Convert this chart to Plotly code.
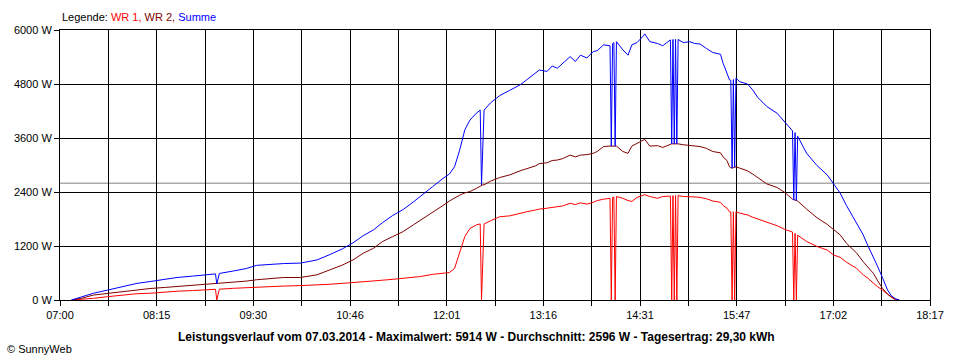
import plotly.graph_objects as go

# ---- data ----
TIMES = [
    "07:09", "07:17", "07:26", "07:37", "07:47", "08:00", "08:10", "08:22", "08:31", "08:43",
    "08:59", "09:01", "09:02", "09:04", "09:15", "09:25", "09:33", "09:43", "09:54", "10:07",
    "10:20", "10:30", "10:40", "10:48", "10:56", "11:04", "11:11", "11:19", "11:27", "11:35",
    "11:40", "11:50", "11:58", "12:03", "12:07", "12:11", "12:15", "12:19", "12:24", "12:27",
    "12:28", "12:29", "12:30", "12:35", "12:42", "12:50", "12:58", "13:03", "13:10", "13:13",
    "13:19", "13:23", "13:27", "13:31", "13:37", "13:41", "13:45", "13:50", "13:55", "13:58",
    "14:03", "14:08", "14:09", "14:10", "14:11", "14:12", "14:13", "14:18", "14:22", "14:25",
    "14:29", "14:34", "14:35", "14:39", "14:45", "14:49", "14:55", "14:56", "14:57", "14:58",
    "14:59", "15:00", "15:01", "15:05", "15:10", "15:14", "15:18", "15:23", "15:28", "15:34",
    "15:36", "15:39", "15:41", "15:42", "15:43", "15:44", "15:45", "15:46", "15:49", "15:55",
    "15:59", "16:03", "16:10", "16:18", "16:24", "16:30", "16:31", "16:32", "16:33", "16:34",
    "16:41", "16:49", "16:57", "17:02", "17:07", "17:12", "17:20", "17:25", "17:28", "17:33",
    "17:36", "17:40", "17:44", "17:47", "17:50", "17:53",
]

WR1 = [
    0, 15, 37, 74, 110, 140, 150, 185, 195, 210,
    235, 238, 0, 240, 260, 275, 290, 300, 310, 320,
    330, 350, 370, 385, 400, 420, 440, 460, 480, 500,
    520, 570, 590, 610, 700, 1040, 1410, 1590, 1670, 1690,
    0, 850, 1690, 1760, 1850, 1870, 1930, 1960, 2000, 2020,
    2040, 2060, 2070, 2090, 2150, 2120, 2160, 2130, 2170, 2210,
    2240, 2260, 0, 2280, 2290, 0, 2300, 2260, 2210, 2190,
    2280, 2330, 2340, 2300, 2260, 2300, 2310, 0, 2320, 0,
    2320, 0, 2320, 2300, 2300, 2290, 2280, 2250, 2200, 2170,
    2100, 2040, 1960, 1960, 0, 1960, 0, 1960, 1930, 1890,
    1840, 1800, 1740, 1650, 1570, 1510, 0, 1480, 0, 1440,
    1300, 1190, 1110, 1000, 950, 840, 700, 560, 500, 370,
    300, 220, 120, 60, 10, 0,
]

WR2 = [
    0, 40, 110, 150, 185, 230, 255, 280, 300, 320,
    350, 352, 355, 360, 385, 420, 450, 480, 500, 500,
    560, 670, 780, 890, 1040, 1150, 1300, 1410, 1520, 1670,
    1760, 1950, 2100, 2200, 2270, 2330, 2380, 2410, 2480, 2530,
    2560, 2560, 2560, 2640, 2720, 2780, 2870, 2920, 2980, 3030,
    3050, 3100, 3110, 3140, 3220, 3180, 3220, 3230, 3260, 3300,
    3410, 3420, 3420, 3420, 3420, 3420, 3420, 3300, 3260, 3420,
    3480, 3540, 3570, 3420, 3430, 3390, 3470, 3470, 3470, 3470,
    3470, 3470, 3470, 3450, 3440, 3420, 3410, 3370, 3300, 3270,
    3180, 3100, 2960, 2940, 2930, 2940, 2950, 2960, 2930, 2870,
    2800, 2720, 2580, 2500, 2390, 2240, 2220, 2220, 2210, 2200,
    2020, 1830, 1680, 1560, 1450, 1260, 1040, 850, 760, 590,
    440, 260, 130, 60, 10, 0,
]

SUMME = [
    0, 70, 150, 220, 280, 370, 410, 460, 500, 530,
    570, 580, 355, 590, 645, 700, 770, 790, 810, 820,
    890, 1010, 1140, 1270, 1430, 1560, 1720, 1880, 2010, 2180,
    2300, 2520, 2700, 2800, 2960, 3330, 3780, 4000, 4150, 4220,
    2560, 3410, 4220, 4380, 4540, 4660, 4780, 4890, 5040, 5110,
    5080, 5200, 5150, 5260, 5410, 5300, 5440, 5380, 5520, 5540,
    5670, 5650, 3420, 5700, 5720, 3420, 5740, 5560, 5440, 5670,
    5720, 5870, 5914, 5740, 5700, 5650, 5780, 3470, 5790, 3470,
    5790, 3470, 5790, 5720, 5740, 5700, 5690, 5590, 5500, 5460,
    5260, 5040, 4890, 4880, 2930, 4900, 2950, 4930, 4850, 4800,
    4670, 4500, 4300, 4150, 3960, 3760, 2220, 3720, 2210, 3640,
    3260, 2990, 2780, 2590, 2380, 2100, 1700, 1450, 1250, 960,
    760, 500, 220, 90, 30, 0,
]

X_TICK_LABELS = ["07:00", "08:15", "09:30", "10:46", "12:01",
                 "13:16", "14:31", "15:47", "17:02", "18:17"]
Y_TICKS = [0, 1200, 2400, 3600, 4800, 6000]
AVERAGE = 2596
TITLE = ("Leistungsverlauf vom 07.03.2014 - Maximalwert: 5914 W - "
         "Durchschnitt: 2596 W - Tagesertrag: 29,30 kWh")


def to_min(s):
    h, m = s.split(":")
    return int(h) * 60 + int(m)


x = [to_min(t) for t in TIMES]
x0 = to_min(X_TICK_LABELS[0])
x1 = to_min(X_TICK_LABELS[-1])
n_half = (len(X_TICK_LABELS) - 1) * 2
xtickvals = [x0 + i * (x1 - x0) / n_half for i in range(n_half + 1)]
xticktext = []
for i in range(n_half + 1):
    xticktext.append(X_TICK_LABELS[i // 2] if i % 2 == 0 else "")

FONT = "Liberation Sans, Arial, sans-serif"

fig = go.Figure()
fig.add_trace(go.Scatter(x=x, y=WR1, mode="lines", name="WR 1",
                         line=dict(color="#ff0000", width=1)))
fig.add_trace(go.Scatter(x=x, y=WR2, mode="lines", name="WR 2",
                         line=dict(color="#800000", width=1)))
fig.add_trace(go.Scatter(x=x, y=SUMME, mode="lines", name="Summe",
                         line=dict(color="#0000ff", width=1)))

fig.add_shape(type="line", xref="paper", x0=0, x1=1, yref="y",
              y0=AVERAGE, y1=AVERAGE, line=dict(color="#808080", width=1),
              layer="below")

fig.update_layout(
    width=960, height=360,
    margin=dict(l=60, r=30, t=30, b=60, pad=0),
    paper_bgcolor="white", plot_bgcolor="white",
    showlegend=False,
    font=dict(family=FONT, size=11, color="black"),
    xaxis=dict(range=[x0, x1], tickmode="array", tickvals=xtickvals,
               ticktext=xticktext, showgrid=True, gridcolor="black",
               gridwidth=1, ticks="outside", ticklen=5, tickcolor="black",
               showline=True, linecolor="black", mirror=True,
               zeroline=False, fixedrange=True,
               tickfont=dict(family=FONT, size=11, color="black")),
    yaxis=dict(range=[0, 6000], tickmode="array", tickvals=Y_TICKS,
               ticktext=[f"{v} W" for v in Y_TICKS], showgrid=True,
               gridcolor="black", gridwidth=1, ticks="outside", ticklen=5,
               tickcolor="black", showline=True, linecolor="black",
               mirror=True, zeroline=False, fixedrange=True,
               tickfont=dict(family=FONT, size=11, color="black")),
    annotations=[
        dict(xref="paper", yref="paper", x=0, y=1.048, xanchor="left",
             yanchor="middle", showarrow=False,
             text=("Legende: <span style='color:#ff0000'>WR 1,</span> "
                   "<span style='color:#800000'>WR 2,</span> "
                   "<span style='color:#0000ff'>Summe</span>"),
             font=dict(family=FONT, size=11, color="black")),
        dict(xref="paper", yref="paper", x=0.479, y=-0.137, xanchor="center",
             yanchor="middle", showarrow=False, text="<b>" + TITLE + "</b>",
             font=dict(family=FONT, size=12, color="black")),
        dict(xref="paper", yref="paper", x=-0.0632, y=-0.181, xanchor="left",
             yanchor="middle", showarrow=False, text="© SunnyWeb",
             font=dict(family=FONT, size=11, color="black")),
    ],
)

fig.write_html(
    "out.html",
    config={"displayModeBar": False},
    post_script="document.body.style.margin='0';document.body.style.overflow='hidden';",
)
